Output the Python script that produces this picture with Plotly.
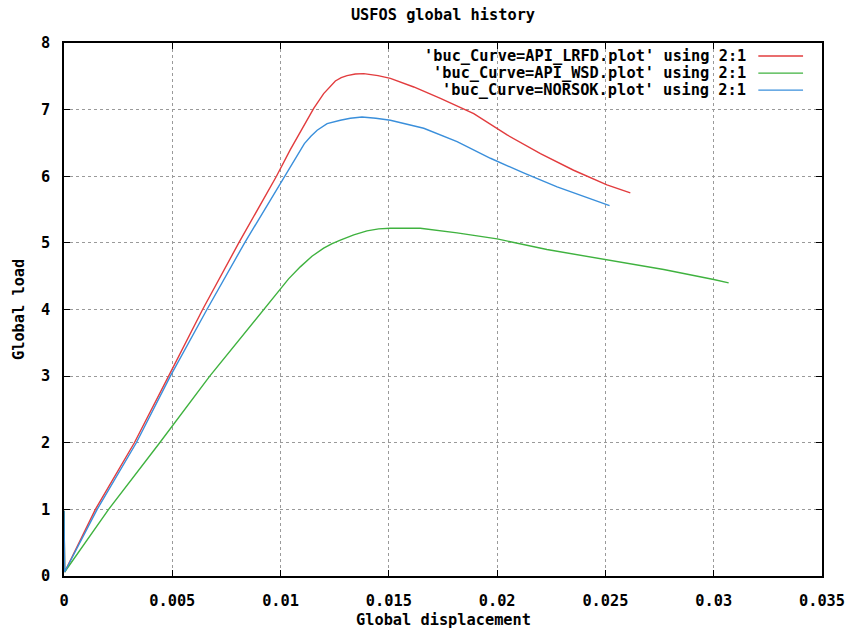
import plotly.graph_objects as go

# Load-displacement histories for three buckling curve definitions
lrfd_disp = [0, 0.00003, 0.00145, 0.00325, 0.00483, 0.0064, 0.00807, 0.00981, 0.01045,
             0.01107, 0.01153, 0.01199, 0.01228, 0.01253, 0.0128, 0.01307, 0.01345,
             0.01384, 0.0145, 0.01507, 0.01615, 0.01738, 0.01892, 0.02046, 0.022,
             0.02353, 0.02507, 0.02615]
lrfd_load = [0.98, 0.06, 1.0, 2.0, 3.0, 4.0, 5.0, 6.0, 6.4,
             6.75, 7.02, 7.24, 7.35, 7.43, 7.48, 7.51, 7.535,
             7.54, 7.51, 7.47, 7.34, 7.17, 6.94, 6.62, 6.34,
             6.09, 5.87, 5.75]

wsd_disp = [0, 0.00003, 0.00206, 0.00442, 0.00673, 0.0092, 0.00984, 0.01037, 0.01091,
            0.01145, 0.01199, 0.01238, 0.01276, 0.01338, 0.01399, 0.01453, 0.01507,
            0.01645, 0.01815, 0.02, 0.0223, 0.02507, 0.02769, 0.03, 0.03069]
wsd_load = [0.98, 0.06, 1.0, 2.0, 3.0, 4.0, 4.25, 4.46, 4.64,
            4.80, 4.92, 4.99, 5.04, 5.12, 5.18, 5.21, 5.22,
            5.22, 5.15, 5.06, 4.90, 4.75, 4.60, 4.45, 4.40]

norsok_disp = [0, 0.00003, 0.00153, 0.00334, 0.00491, 0.0066, 0.00834, 0.01022, 0.01061,
               0.0111, 0.0114, 0.01169, 0.01215, 0.01245, 0.01276, 0.01322, 0.01376,
               0.0144, 0.01507, 0.01661, 0.01815, 0.01969, 0.02122, 0.02277, 0.0243,
               0.02519]
norsok_load = [0.98, 0.06, 1.0, 2.0, 3.0, 4.0, 5.0, 6.02, 6.24,
               6.49, 6.60, 6.69, 6.79, 6.82, 6.84, 6.87, 6.89,
               6.87, 6.84, 6.72, 6.52, 6.27, 6.05, 5.84, 5.67,
               5.56]

series_names = ["'buc_Curve=API_LRFD.plot' using 2:1",
                "'buc_Curve=API_WSD.plot' using 2:1",
                "'buc_Curve=NORSOK.plot' using 2:1"]
series_colors = ["#e23c3e", "#3fb23f", "#3a8fdb"]

x_ticks = [0, 0.005, 0.01, 0.015, 0.02, 0.025, 0.03, 0.035]
x_tick_text = ["0", "0.005", "0.01", "0.015", "0.02", "0.025", "0.03", "0.035"]
y_ticks = [0, 1, 2, 3, 4, 5, 6, 7, 8]
y_tick_text = ["0", "1", "2", "3", "4", "5", "6", "7", "8"]

FONT = dict(family="DejaVu Sans Mono", size=15.3, color="black", weight="bold")

fig = go.Figure()
for xs, ys, name, color in zip([lrfd_disp, wsd_disp, norsok_disp],
                               [lrfd_load, wsd_load, norsok_load],
                               series_names, series_colors):
    fig.add_trace(go.Scatter(x=xs, y=ys, mode="lines", name=name,
                             line=dict(color=color, width=1.4), showlegend=False))

# Key in the top-right corner: right-aligned text followed by a line sample
key_rows = [0.9757, 0.9434, 0.9115]
for name, color, yk in zip(series_names, series_colors, key_rows):
    fig.add_annotation(text=name, xref="paper", yref="paper", x=0.903, y=yk,
                       xanchor="right", yanchor="middle", showarrow=False, font=FONT)
    fig.add_shape(type="line", xref="paper", yref="paper", x0=0.916, x1=0.975,
                  y0=yk, y1=yk, line=dict(color=color, width=1.4))

# Axis titles
fig.add_annotation(text="Global displacement", xref="paper", yref="paper", x=0.5, y=-0.083,
                   xanchor="center", yanchor="middle", showarrow=False, font=FONT)
fig.add_annotation(text="Global load", xref="paper", yref="paper", x=-0.060, y=0.5,
                   xanchor="center", yanchor="middle", textangle=-90, showarrow=False, font=FONT)

axis_common = dict(showline=True, linecolor="black", linewidth=1.5, mirror="allticks",
                   ticks="inside", ticklen=6, tickcolor="black", tickwidth=1.2,
                   showgrid=True, gridcolor="#9a9a9a", griddash="dot", gridwidth=1,
                   zeroline=False, tickfont=FONT, automargin=False)

fig.update_xaxes(range=[0, 0.035], tickvals=x_ticks, ticktext=x_tick_text,
                 ticklabelstandoff=10, **axis_common)
fig.update_yaxes(range=[0, 8], tickvals=y_ticks, ticktext=y_tick_text,
                 ticklabelstandoff=9, **axis_common)

fig.update_layout(
    width=848, height=633, autosize=False,
    margin=dict(l=64, r=26, t=43, b=57, pad=0),
    paper_bgcolor="white", plot_bgcolor="white",
    title=dict(text="USFOS global history", x=0.5, xref="paper", y=1 - 15 / 633,
               yref="container", xanchor="center", yanchor="middle", font=FONT),
)

fig.write_html("out.html")
